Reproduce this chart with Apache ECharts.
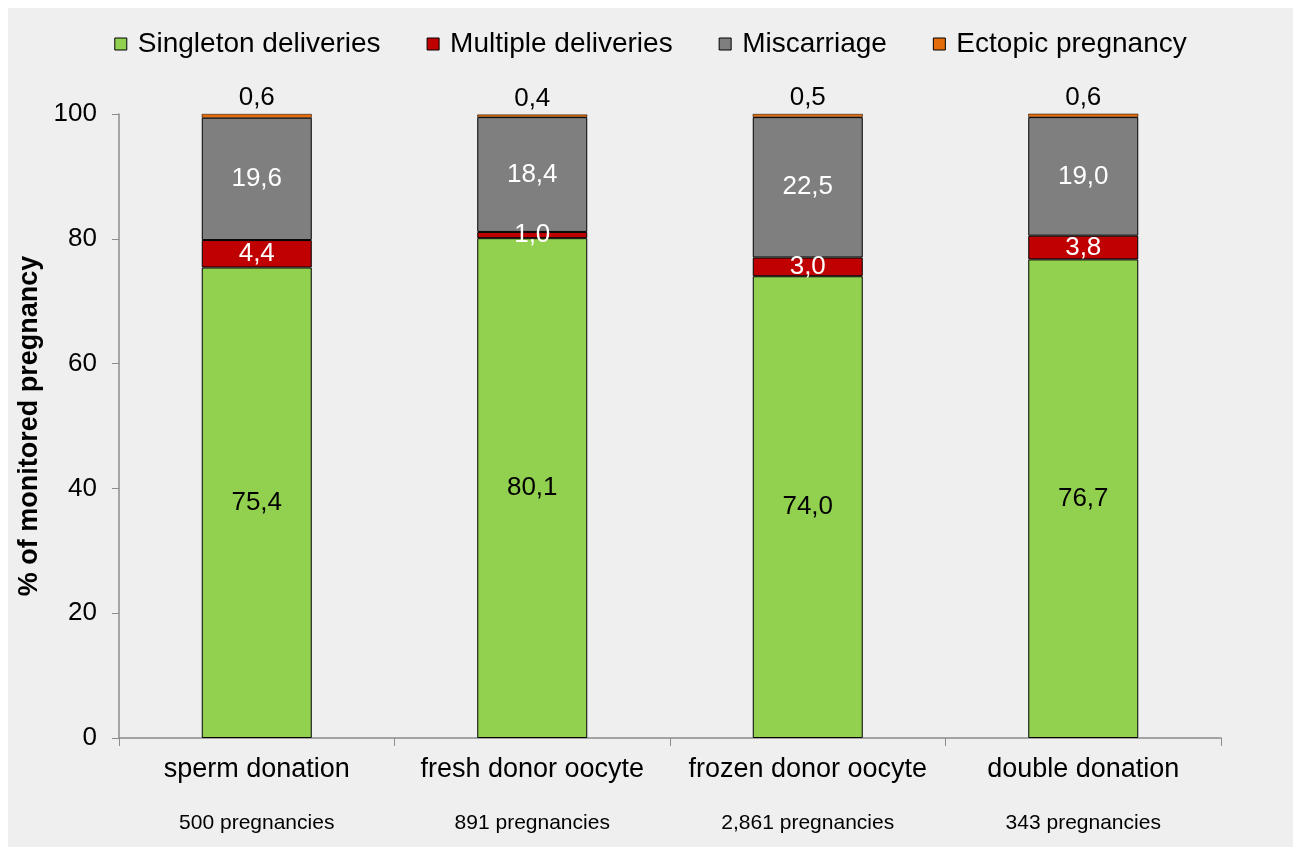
<!DOCTYPE html>
<html>
<head>
<meta charset="utf-8">
<title>Pregnancy outcomes by donation type</title>
<style>
  html, body { margin: 0; padding: 0; background: #ffffff; }
  #chart { position: absolute; left: 8px; top: 8px; width: 1285px; height: 839px; background: #efefef; }
</style>
<script src="https://cdn.jsdelivr.net/npm/echarts@6/dist/echarts.min.js"></script>
</head>
<body>
<div id="chart"></div>
<script>
var categories = ['sperm donation', 'fresh donor oocyte', 'frozen donor oocyte', 'double donation'];
var pregnancies = ['500 pregnancies', '891 pregnancies', '2,861 pregnancies', '343 pregnancies'];
var singleton = [75.4, 80.1, 74.0, 76.7];
var multiple = [4.4, 1.0, 3.0, 3.8];
var miscarriage = [19.6, 18.4, 22.5, 19.0];
var ectopic = [0.6, 0.4, 0.5, 0.6];

var fontFamily = '"Liberation Sans", Arial, sans-serif';

function fmt(p) {
  return p.value.toFixed(1).replace('.', ',');
}

function makeSeries(name, data, color, labelColor, pos, border) {
  return {
    name: name,
    type: 'bar',
    stack: 'total',
    barWidth: 110,
    data: data,
    itemStyle: { color: color, borderColor: '#000', borderWidth: border },
    label: {
      show: true,
      position: pos,
      color: labelColor,
      fontSize: 26,
      fontFamily: fontFamily,
      distance: 3,
      formatter: fmt
    }
  };
}

var chart = echarts.init(document.getElementById('chart'));
var option = {
  backgroundColor: '#efefef',
  textStyle: { fontFamily: fontFamily },
  legend: {
    top: 17,
    left: 'center',
    itemWidth: 12,
    itemHeight: 12,
    itemGap: 46,
    icon: 'rect',
    itemStyle: { borderColor: '#000', borderWidth: 1 },
    textStyle: { fontSize: 28, color: '#000', fontFamily: fontFamily, padding: [0, 0, 0, 6] },
    data: ['Singleton deliveries', 'Multiple deliveries', 'Miscarriage', 'Ectopic pregnancy']
  },
  grid: { left: 111, right: 72, top: 106, bottom: 109, outerBoundsMode: 'none' },
  xAxis: {
    type: 'category',
    data: categories,
    axisLine: { lineStyle: { color: '#8c8c8c', width: 1.5 } },
    axisTick: { show: true, length: 8, lineStyle: { color: '#8c8c8c' } },
    axisLabel: {
      margin: 16,
      interval: 0,
      formatter: function (v, i) {
        return '{a|' + v + '}\n{b|' + pregnancies[i] + '}';
      },
      rich: {
        a: { fontSize: 27, lineHeight: 32, color: '#000', fontFamily: fontFamily },
        b: { fontSize: 21, lineHeight: 74, color: '#000', fontFamily: fontFamily }
      }
    }
  },
  yAxis: {
    type: 'value',
    min: 0,
    max: 100,
    interval: 20,
    name: '% of monitored pregnancy',
    nameLocation: 'middle',
    nameGap: 76,
    nameTextStyle: { fontSize: 27, fontWeight: 'bold', color: '#000', fontFamily: fontFamily },
    axisLine: { show: true, lineStyle: { color: '#8c8c8c', width: 1.5 } },
    axisTick: { show: true, length: 7, lineStyle: { color: '#8c8c8c' } },
    splitLine: { show: false },
    axisLabel: { fontSize: 26, color: '#000', margin: 22, fontFamily: fontFamily }
  },
  series: [
    makeSeries('Singleton deliveries', singleton, '#92d050', '#000', 'inside', 1),
    makeSeries('Multiple deliveries', multiple, '#c00000', '#fff', 'inside', 1),
    makeSeries('Miscarriage', miscarriage, '#7f7f7f', '#fff', 'inside', 1),
    makeSeries('Ectopic pregnancy', ectopic, '#e46c0a', '#000', 'top', 0.5)
  ]
};
chart.setOption(option);
</script>
</body>
</html>
